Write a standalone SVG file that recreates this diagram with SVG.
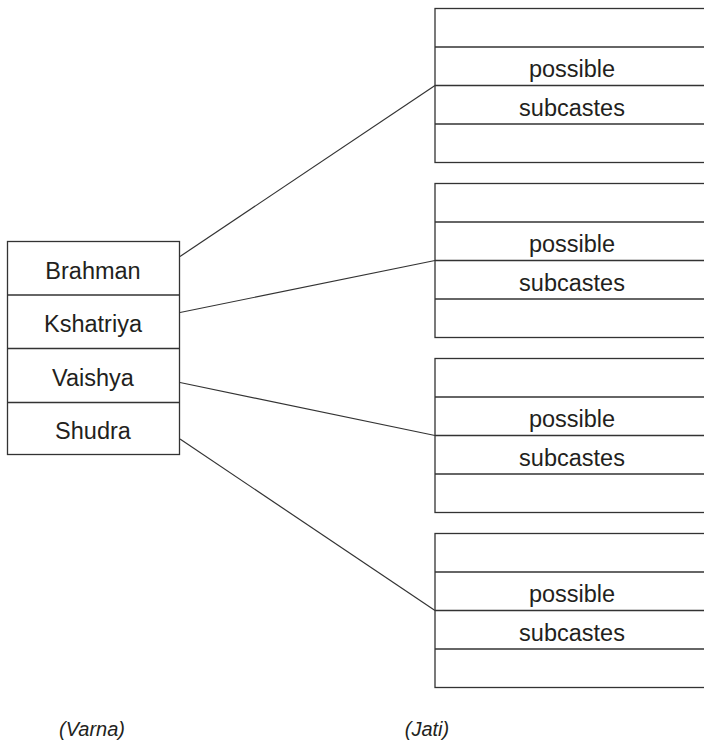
<svg xmlns="http://www.w3.org/2000/svg" width="704" height="741" viewBox="0 0 704 741">
<style>
.box{fill:#fff;stroke:#333;stroke-width:1.3}
.div{stroke:#333;stroke-width:1.3}
.t{font-family:"Liberation Sans",Arial,sans-serif;font-size:23.5px;fill:#231f20;text-anchor:middle}
.it{font-family:"Liberation Sans",Arial,sans-serif;font-size:20px;font-style:italic;fill:#231f20;text-anchor:middle}
.con{stroke:#333;stroke-width:1.2;fill:none}
</style>
<rect width="704" height="741" fill="#fff"/>
<g id="varna">
<rect class="box" x="7.5" y="241.5" width="172" height="213"/>
<line class="div" x1="7.5" y1="295" x2="179.5" y2="295"/>
<line class="div" x1="7.5" y1="348.5" x2="179.5" y2="348.5"/>
<line class="div" x1="7.5" y1="402.5" x2="179.5" y2="402.5"/>
<text class="t" x="93" y="278.5">Brahman</text>
<text class="t" x="93" y="332">Kshatriya</text>
<text class="t" x="93" y="385.5">Vaishya</text>
<text class="t" x="93" y="439">Shudra</text>
</g>
<g id="jati1">
<rect class="box" x="435" y="8.5" width="275" height="154"/>
<line class="div" x1="435" y1="47" x2="710" y2="47"/>
<line class="div" x1="435" y1="85.5" x2="710" y2="85.5"/>
<line class="div" x1="435" y1="124" x2="710" y2="124"/>
<text class="t" x="572" y="77">possible</text>
<text class="t" x="572" y="115.5">subcastes</text>
</g>
<g id="jati2">
<rect class="box" x="435" y="183.5" width="275" height="154"/>
<line class="div" x1="435" y1="222" x2="710" y2="222"/>
<line class="div" x1="435" y1="260.5" x2="710" y2="260.5"/>
<line class="div" x1="435" y1="299" x2="710" y2="299"/>
<text class="t" x="572" y="252">possible</text>
<text class="t" x="572" y="290.5">subcastes</text>
</g>
<g id="jati3">
<rect class="box" x="435" y="358.5" width="275" height="154"/>
<line class="div" x1="435" y1="397" x2="710" y2="397"/>
<line class="div" x1="435" y1="435.5" x2="710" y2="435.5"/>
<line class="div" x1="435" y1="474" x2="710" y2="474"/>
<text class="t" x="572" y="427">possible</text>
<text class="t" x="572" y="465.5">subcastes</text>
</g>
<g id="jati4">
<rect class="box" x="435" y="533.5" width="275" height="154"/>
<line class="div" x1="435" y1="572" x2="710" y2="572"/>
<line class="div" x1="435" y1="610.5" x2="710" y2="610.5"/>
<line class="div" x1="435" y1="649" x2="710" y2="649"/>
<text class="t" x="572" y="602">possible</text>
<text class="t" x="572" y="640.5">subcastes</text>
</g>
<g id="connectors">
<line class="con" x1="180" y1="256.5" x2="435" y2="85.5"/>
<line class="con" x1="180" y1="312.5" x2="435" y2="260.5"/>
<line class="con" x1="180" y1="382.5" x2="435" y2="435.5"/>
<line class="con" x1="180" y1="439" x2="435" y2="610.5"/>
</g>
<g id="labels">
<text class="it" x="92" y="736">(Varna)</text>
<text class="it" x="427" y="736">(Jati)</text>
</g>
</svg>
